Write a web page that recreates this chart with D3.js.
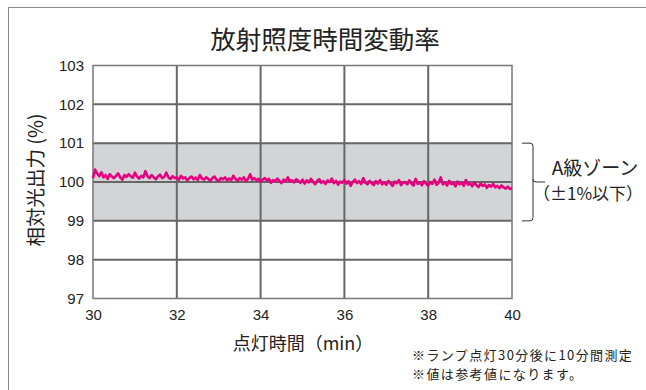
<!DOCTYPE html>
<html><head><meta charset="utf-8">
<script src="https://cdn.jsdelivr.net/npm/d3@7/dist/d3.min.js"></script>
<style>body{margin:0;background:#fff}svg{display:block}</style>
</head><body><svg id="c" width="646" height="390"></svg>
<script>
const title = "放射照度時間変動率";
const yTitle = "相対光出力 (%)";
const xTitle = "点灯時間（min）";
const xTicks = [30, 32, 34, 36, 38, 40];
const yTicks = [97, 98, 99, 100, 101, 102, 103];
const zone = [99, 101];
const zoneLabel = ["A級ゾーン", "（±1%以下）"];
const notes = ["※ランプ点灯30分後に10分間測定", "※値は参考値になります。"];
const startMin = 30, stepMin = 0.05;
const values = [
100.10,100.32,100.22,100.15,100.25,100.12,100.18,100.08,100.20,100.14,100.10,100.16,100.22,100.12,100.06,100.18,100.13,100.20,100.15,100.11,
100.24,100.14,100.09,100.16,100.12,100.28,100.15,100.10,100.18,100.12,100.07,100.14,100.19,100.10,100.13,100.24,100.12,100.08,100.15,100.10,
100.12,100.06,100.16,100.09,100.12,100.04,100.10,100.14,100.07,100.11,100.05,100.18,100.09,100.06,100.12,100.08,100.03,100.10,100.14,100.06,
100.02,100.10,100.07,100.12,100.04,100.09,100.05,100.16,100.08,100.03,100.10,100.06,100.12,100.02,100.08,100.20,100.06,100.10,100.04,100.08,
100.01,100.06,100.10,100.04,100.08,99.98,100.05,100.02,100.09,100.03,99.97,100.06,100.02,100.12,100.01,100.05,99.99,100.07,100.03,99.98,
100.06,99.96,100.04,99.99,100.08,100.01,99.94,100.03,100.07,99.98,100.02,99.95,100.04,100.00,100.09,99.97,100.03,99.93,100.01,99.98,
100.05,99.96,100.02,99.90,100.00,100.06,99.97,100.02,99.95,100.10,99.98,99.94,100.03,99.97,99.92,100.02,99.96,100.05,99.94,99.99,
99.93,100.03,99.96,99.90,100.01,99.97,100.05,99.92,99.98,100.00,99.94,100.04,99.96,99.91,100.08,99.95,99.99,99.92,100.02,99.96,
99.90,100.00,99.95,100.06,99.93,99.98,100.12,99.94,99.99,99.91,100.03,99.95,99.97,99.89,100.01,99.94,99.98,99.90,100.05,99.93,
99.96,99.89,99.99,99.92,99.87,99.96,99.90,99.94,99.85,99.92,99.88,99.95,99.86,99.90,99.84,99.91,99.86,99.83,99.88,99.82,99.84
];
const times = values.map((v, i) => startMin + i * stepMin);

const svg = d3.select("#c");
const L = 93, R = 512, T = 65.5, B = 298.5;
const x = d3.scaleLinear().domain([30, 40]).range([L, R]);
const y = d3.scaleLinear().domain([97, 103]).range([B, T]);
const jp = "'Noto Sans CJK JP', sans-serif";
const num = "'Liberation Sans', Arial, sans-serif";

// outer frame
svg.append("rect").attr("x", 8.5).attr("y", 7.5).attr("width", 800).attr("height", 600)
  .attr("fill", "none").attr("stroke", "#8a8a8a").attr("stroke-width", 1);

// zone band
svg.append("rect").attr("x", x(30)).attr("width", x(40) - x(30))
  .attr("y", y(zone[1])).attr("height", y(zone[0]) - y(zone[1])).attr("fill", "#d3d4d6");

// grid
const g = svg.append("g");
g.selectAll(".hg").data(yTicks.slice(1, -1)).join("line")
  .attr("x1", x(30)).attr("x2", x(40)).attr("y1", d => y(d)).attr("y2", d => y(d))
  .attr("stroke", "#666").attr("stroke-width", 2);
g.selectAll(".vg").data(xTicks.slice(1, -1)).join("line")
  .attr("y1", y(103)).attr("y2", y(97)).attr("x1", d => x(d)).attr("x2", d => x(d))
  .attr("stroke", "#666").attr("stroke-width", 2);

// plot border
svg.append("rect").attr("x", x(30)).attr("y", y(103)).attr("width", x(40) - x(30)).attr("height", y(97) - y(103))
  .attr("fill", "none").attr("stroke", "#777").attr("stroke-width", 1.5);

// axes
const ya = svg.append("g").attr("transform", `translate(${L},0)`)
  .call(d3.axisLeft(y).tickValues(yTicks).tickFormat(d3.format("d")).tickSize(0).tickPadding(9));
ya.select(".domain").remove();
ya.selectAll("text").attr("font-family", num).attr("font-size", 15).attr("fill", "#222");
const xa = svg.append("g").attr("transform", `translate(0,${B})`)
  .call(d3.axisBottom(x).tickValues(xTicks).tickFormat(d3.format("d")).tickSize(0).tickPadding(11));
xa.select(".domain").remove();
xa.selectAll("text").attr("font-family", num).attr("font-size", 15).attr("fill", "#222");

// data line
svg.append("path").datum(values)
  .attr("d", d3.line().x((d, i) => x(times[i])).y(d => y(d)))
  .attr("fill", "none").attr("stroke", "#e6007e").attr("stroke-width", 2.6).attr("stroke-linejoin", "round");

// titles
svg.append("text").attr("x", 325).attr("y", 49).attr("text-anchor", "middle")
  .attr("font-family", jp).attr("font-size", 25.5).attr("fill", "#222").text(title);
svg.append("text").attr("transform", "translate(43,180) rotate(-90)").attr("text-anchor", "middle")
  .attr("font-family", jp).attr("font-size", 19.5).attr("fill", "#222").text(yTitle);
svg.append("text").attr("x", 303).attr("y", 350).attr("text-anchor", "middle")
  .attr("font-family", jp).attr("font-size", 18).attr("fill", "#222").text(xTitle);

// bracket
const bx0 = 522, bx1 = 533, bx2 = 545, r = 3;
const yt = y(zone[1]), yb = y(zone[0]), ym = y(100);
svg.append("path").attr("fill", "none").attr("stroke", "#333").attr("stroke-width", 1)
  .attr("d", `M${bx0},${yt} H${bx1 - r} Q${bx1},${yt} ${bx1},${yt + r} V${ym - r} Q${bx1},${ym} ${bx1 + r},${ym} H${bx2}
             M${bx1},${ym - r} V${yb - r} Q${bx1},${yb} ${bx1 - r},${yb} H${bx0}`);
svg.append("text").attr("x", 595).attr("y", 175).attr("text-anchor", "middle")
  .attr("font-family", jp).attr("font-size", 19).attr("fill", "#222").text(zoneLabel[0]);
svg.append("text").attr("x", 588).attr("y", 200).attr("text-anchor", "middle")
  .attr("font-family", jp).attr("font-size", 17).attr("fill", "#222").text(zoneLabel[1]);

// notes
svg.selectAll(".note").data(notes).join("text")
  .attr("x", 412).attr("y", (d, i) => 360 + i * 19)
  .attr("font-family", jp).attr("font-size", 13).attr("letter-spacing", 1.4)
  .attr("fill", "#222").text(d => d);
</script></body></html>
